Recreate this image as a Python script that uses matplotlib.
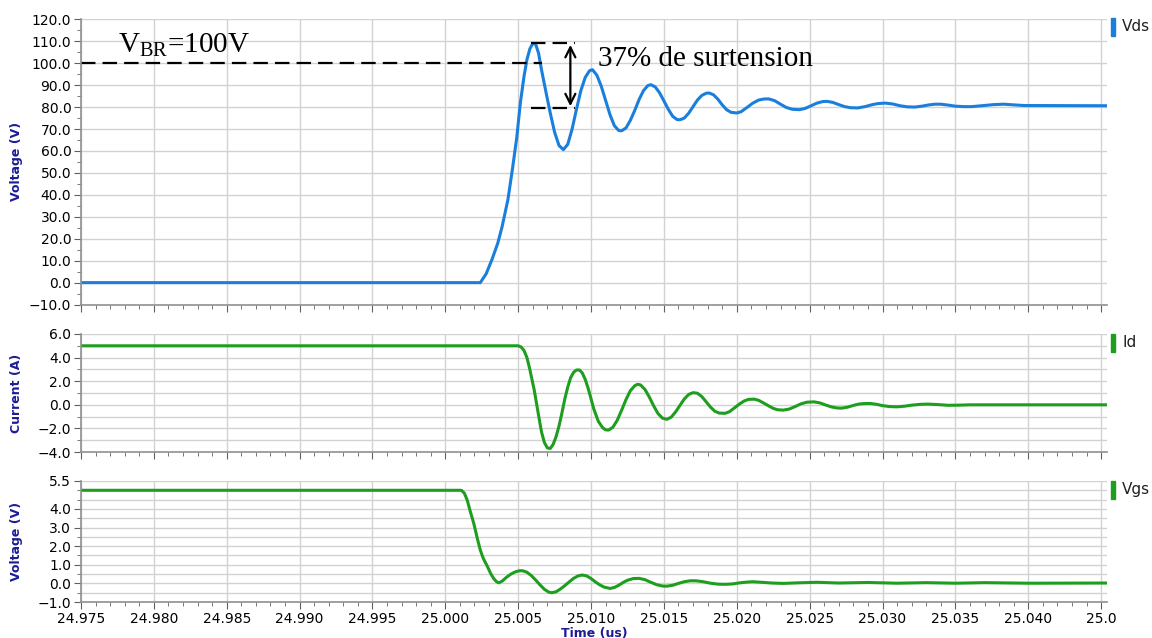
import numpy as np
import matplotlib
matplotlib.use('Agg')
from matplotlib import pyplot as plt
from matplotlib.patches import Rectangle
from matplotlib.ticker import MultipleLocator, FixedLocator

plt.rcParams['font.family'] = ['DejaVu Sans']
plt.rcParams['mathtext.fontset'] = 'custom'
plt.rcParams['mathtext.rm'] = 'Liberation Serif'

# time axis (us)
x_ticks = [24.975, 24.980, 24.985, 24.990, 24.995, 25.000, 25.005, 25.010,
           25.015, 25.020, 25.025, 25.030, 25.035, 25.040, 25.045]
x_labels = ['24.975', '24.980', '24.985', '24.990', '24.995', '25.000', '25.005', '25.010',
            '25.015', '25.020', '25.025', '25.030', '25.035', '25.040', '25.0']

# Vds (V)
t_vds = [24.975, 25.0024, 25.0028, 25.0032, 25.0036, 25.0039, 25.0043, 25.0046, 25.0049,
         25.00515, 25.0054, 25.0056, 25.0058, 25.0060, 25.0062, 25.0064, 25.0066, 25.0069,
         25.0072, 25.0075, 25.0078, 25.0081, 25.0084, 25.0087, 25.0090, 25.0093, 25.0096,
         25.0099, 25.0101, 25.0104, 25.0107, 25.0110, 25.0113, 25.0116, 25.0119, 25.0121,
         25.0124, 25.0127, 25.0130, 25.0133, 25.0136, 25.0139, 25.0141, 25.0144, 25.0147,
         25.0150, 25.0153, 25.0156, 25.0159, 25.0161, 25.0164, 25.0167, 25.0170, 25.0173,
         25.0176, 25.0179, 25.0181, 25.0184, 25.0187, 25.0190, 25.0193, 25.0196, 25.0200,
         25.0203, 25.0207, 25.0211, 25.0215, 25.0219, 25.0222, 25.0226, 25.0230, 25.0234,
         25.0238, 25.0243, 25.0247, 25.0251, 25.0255, 25.0259, 25.0262, 25.0266, 25.0270,
         25.0274, 25.0278, 25.0283, 25.0288, 25.0293, 25.0297, 25.0302, 25.0307, 25.0312,
         25.0317, 25.0322, 25.0327, 25.0332, 25.0336, 25.0340, 25.0345, 25.0350, 25.0356,
         25.0361, 25.0368, 25.0376, 25.0383, 25.0390, 25.0397, 25.0454]
vds = [0, 0, 4, 10.5, 18, 25.6, 38, 51.5, 66,
       82, 94, 101.6, 106.5, 109, 108.6, 104.5, 97, 87,
       77.3, 68.5, 62.5, 60.6, 63, 70, 79, 87.5, 93.5,
       96.6, 97, 94.5, 89.5, 83, 76.5, 71.5, 69.3, 69.2,
       70.5, 74, 78.5, 83.5, 87.5, 89.8, 90.2, 89.2, 86.5,
       82.8, 79, 75.8, 74.3, 74.2, 75, 77.2, 80.2, 83.2,
       85.3, 86.3, 86.4, 85.6, 83.6, 81, 78.8, 77.6, 77.3,
       77.9, 79.8, 81.8, 83.2, 83.7, 83.7, 82.9, 81.3, 79.8,
       79, 78.8, 79.4, 80.6, 81.8, 82.5, 82.6, 82.1, 81.1,
       80.2, 79.7, 79.6, 80.2, 81.1, 81.6, 81.8, 81.4, 80.6,
       80.1, 80.0, 80.4, 81.0, 81.3, 81.3, 80.9, 80.4, 80.2,
       80.2, 80.6, 81.1, 81.3, 81.0, 80.7, 80.6]

# Id (A)
t_id = [24.975, 25.0050, 25.0052, 25.0054, 25.0056, 25.0058, 25.0061, 25.0064, 25.0066,
        25.0068, 25.0070, 25.0072, 25.0074, 25.0076, 25.0078, 25.0080, 25.0082, 25.0084,
        25.0086, 25.0088, 25.0090, 25.0092, 25.0094, 25.0096, 25.0098, 25.0100, 25.0102,
        25.0105, 25.0108, 25.0110, 25.0112, 25.0115, 25.0118, 25.0121, 25.0124, 25.0127,
        25.0130, 25.0132, 25.0134, 25.0137, 25.0140, 25.0143, 25.0146, 25.0149, 25.0152,
        25.0155, 25.0158, 25.0161, 25.0164, 25.0167, 25.0170, 25.0173, 25.0176, 25.0179,
        25.0182, 25.0185, 25.0188, 25.0192, 25.0195, 25.0198, 25.0202, 25.0205, 25.0208,
        25.0212, 25.0215, 25.0218, 25.0222, 25.0225, 25.0228, 25.0232, 25.0236, 25.0240,
        25.0244, 25.0248, 25.0253, 25.0257, 25.0261, 25.0265, 25.0269, 25.0272, 25.0276,
        25.0280, 25.0284, 25.0288, 25.0292, 25.0296, 25.0300, 25.0305, 25.0310, 25.0315,
        25.0320, 25.0326, 25.0331, 25.0338, 25.0345, 25.0352, 25.0360, 25.0454]
i_d = [5.0, 5.0, 4.9, 4.6, 4.0, 3.0, 1.25, -0.9, -2.3,
       -3.2, -3.65, -3.7, -3.35, -2.7, -1.8, -0.7, 0.5, 1.5,
       2.3, 2.75, 2.95, 2.95, 2.7, 2.15, 1.4, 0.5, -0.4,
       -1.4, -1.95, -2.12, -2.14, -1.9, -1.3, -0.45, 0.45, 1.2,
       1.62, 1.74, 1.68, 1.3, 0.65, -0.1, -0.75, -1.13, -1.23,
       -1.05, -0.6, -0.05, 0.5, 0.88, 1.03, 0.98, 0.7, 0.25,
       -0.2, -0.55, -0.7, -0.72, -0.58, -0.3, 0.08, 0.32, 0.46,
       0.48, 0.38, 0.18, -0.1, -0.3, -0.42, -0.45, -0.36, -0.15,
       0.08, 0.22, 0.25, 0.16, -0.02, -0.18, -0.27, -0.28, -0.2,
       -0.05, 0.07, 0.11, 0.11, 0.04, -0.07, -0.15, -0.17, -0.12,
       -0.03, 0.04, 0.06, 0.02, -0.04, -0.03, 0.0, 0.0]

# Vgs (V)
t_vgs = [24.975, 25.0011, 25.0013, 25.0015, 25.0017, 25.00195, 25.0022, 25.0024, 25.0026,
         25.0029, 25.0031, 25.0033, 25.0035, 25.00366, 25.0039, 25.0042, 25.0045, 25.0048,
         25.0051, 25.0053, 25.0056, 25.0059, 25.0062, 25.0065, 25.0068, 25.0071, 25.0073,
         25.0076, 25.0079, 25.0082, 25.0085, 25.0088, 25.0091, 25.0094, 25.0097, 25.0100,
         25.0103, 25.0106, 25.0109, 25.0113, 25.0116, 25.0119, 25.0122, 25.0125, 25.0129,
         25.0133, 25.0137, 25.0141, 25.0145, 25.0149, 25.0152, 25.0156, 25.0160, 25.0164,
         25.0168, 25.0172, 25.0177, 25.0182, 25.0187, 25.0192, 25.0197, 25.0202, 25.0207,
         25.0211, 25.0217, 25.0224, 25.0232, 25.0242, 25.0255, 25.0270, 25.0290, 25.0310,
         25.0330, 25.0350, 25.0370, 25.0400, 25.0454]
vgs = [5.0, 5.0, 4.85, 4.48, 3.9, 3.23, 2.4, 1.79, 1.35,
       0.89, 0.55, 0.28, 0.1, 0.03, 0.12, 0.33, 0.5, 0.62,
       0.68, 0.68, 0.6, 0.42, 0.18, -0.08, -0.32, -0.47, -0.5,
       -0.45, -0.3, -0.12, 0.08, 0.27, 0.4, 0.45, 0.4, 0.26,
       0.08, -0.08, -0.2, -0.27, -0.22, -0.1, 0.05, 0.17, 0.26,
       0.27, 0.2, 0.06, -0.07, -0.14, -0.15, -0.1, 0.0, 0.09,
       0.14, 0.14, 0.09, 0.01, -0.04, -0.05, -0.03, 0.03, 0.07,
       0.09, 0.06, 0.02, 0.0, 0.03, 0.06, 0.02, 0.05, 0.01,
       0.04, 0.01, 0.04, 0.01, 0.02]

blue = '#1a7fdc'
green = '#1e9e1e'
navy = '#1c1c96'
gridc = '#d2d2d2'

fig = plt.figure(figsize=(11.52, 6.38), dpi=100)
ax1 = fig.add_axes([0.0703, 0.5226, 0.8906, 0.4472])
ax2 = fig.add_axes([0.0703, 0.2915, 0.8906, 0.1850])
ax3 = fig.add_axes([0.0703, 0.0564, 0.8906, 0.1897])


def style(ax):
    ax.set_xlim(24.975, 25.0454)
    ax.xaxis.set_major_locator(FixedLocator(x_ticks))
    ax.xaxis.set_minor_locator(MultipleLocator(0.001))
    ax.grid(True, which='major', axis='x', color=gridc, lw=1)
    for s in ['top', 'right']:
        ax.spines[s].set_visible(False)
    for s in ['left', 'bottom']:
        ax.spines[s].set_color('#909090')
        ax.spines[s].set_linewidth(1.2)
    ax.tick_params(which='major', length=5, color='#606060', labelsize=10, pad=2)
    ax.tick_params(which='minor', length=3, color='#606060')
    ax.set_axisbelow(True)


for ax in (ax1, ax2, ax3):
    style(ax)

ax1.plot(t_vds, vds, color=blue, lw=2.2, solid_joinstyle='round')
ax1.set_ylim(-10, 120)
ax1.yaxis.set_major_locator(MultipleLocator(10))
ax1.yaxis.set_minor_locator(MultipleLocator(5))
ax1.yaxis.set_major_formatter('{x:.1f}')
ax1.grid(True, which='major', axis='y', color=gridc, lw=1)
ax1.set_xticklabels([])
ax1.set_ylabel('Voltage (V)', color=navy, fontsize=9, fontweight='bold')
ax1.yaxis.set_label_coords(-0.057, 0.5)

ax2.plot(t_id, i_d, color=green, lw=2.2, solid_joinstyle='round')
ax2.set_ylim(-4, 6)
ax2.yaxis.set_major_locator(MultipleLocator(2))
ax2.yaxis.set_minor_locator(MultipleLocator(1))
ax2.yaxis.set_major_formatter('{x:.1f}')
ax2.grid(True, which='both', axis='y', color=gridc, lw=1)
ax2.set_xticklabels([])
ax2.set_ylabel('Current (A)', color=navy, fontsize=9, fontweight='bold')
ax2.yaxis.set_label_coords(-0.057, 0.5)

ax3.plot(t_vgs, vgs, color=green, lw=2.2, solid_joinstyle='round')
ax3.set_ylim(-1, 5.5)
ax3.yaxis.set_major_locator(FixedLocator([-1, 0, 1, 2, 3, 4, 5.5]))
ax3.yaxis.set_minor_locator(MultipleLocator(0.5))
ax3.yaxis.set_major_formatter('{x:.1f}')
ax3.grid(True, which='both', axis='y', color=gridc, lw=1)
ax3.set_xticklabels(x_labels)
ax3.set_ylabel('Voltage (V)', color=navy, fontsize=9, fontweight='bold')
ax3.yaxis.set_label_coords(-0.057, 0.5)
ax3.set_xlabel('Time (us)', color=navy, fontsize=9, fontweight='bold', labelpad=1)

# breakdown voltage and overshoot annotation
dash = (0, (6.5, 3.2))
ax1.plot([24.975, 25.0066], [100, 100], color='k', lw=1.6, linestyle=dash)
ax1.plot([25.0059, 25.0089], [109.2, 109.2], color='k', lw=1.6, linestyle=dash)
ax1.plot([25.0059, 25.0089], [79.5, 79.5], color='k', lw=1.6, linestyle=dash)
ax1.annotate('', xy=(25.00858, 109.6), xytext=(25.00858, 79.1),
             arrowprops=dict(arrowstyle='<->', lw=1.6, color='k', mutation_scale=18))
ax1.text(25.0105, 98.5, '37% de surtension', family='Liberation Serif', fontsize=21,
         va='baseline', ha='left')
ax1.text(24.97754, 105.1, r'V$_{\mathrm{BR}}$=100V', family='Liberation Serif', fontsize=21,
         va='baseline', ha='left')

# trace names on the right
for name, col, yc in [('Vds', blue, 0.9577), ('Id', green, 0.4624), ('Vgs', green, 0.232)]:
    fig.patches.append(Rectangle((0.9644, yc - 0.014), 0.0035, 0.028, transform=fig.transFigure,
                                 color=col, figure=fig))
    fig.text(0.974, yc, name, fontsize=11, va='center', ha='left', color='#202020')

fig.savefig('out.png', dpi=100)
